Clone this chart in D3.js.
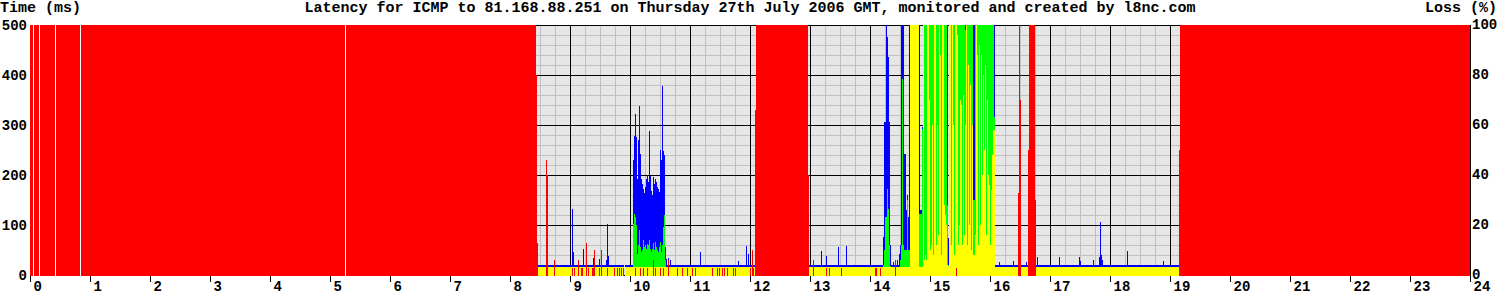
<!DOCTYPE html>
<html>
<head>
<meta charset="utf-8">
<script src="https://cdn.jsdelivr.net/npm/d3@7.9.0/dist/d3.min.js"></script>
<style>
  body { margin: 0; background: #fff; }
  svg text { font-family: "Liberation Mono", "DejaVu Sans Mono", monospace; font-weight: bold; fill: #000; }
  rect, line { shape-rendering: crispEdges; }
</style>
</head>
<body>
<svg width="1500" height="300"></svg>
<script>
const title = 'Latency for ICMP to 81.168.88.251 on Thursday 27th July 2006 GMT, monitored and created by l8nc.com';
const leftTitle = 'Time (ms)';
const rightTitle = 'Loss (%)';

const hourTicks = [0, 1, 2, 3, 4, 5, 6, 7, 8, 9, 10, 11, 12, 13, 14, 15, 16, 17, 18, 19, 20, 21, 22, 23, 24];
const msTicks = [0, 100, 200, 300, 400, 500];
const lossTicks = [0, 20, 40, 60, 80, 100];

// time is in minutes after midnight, one sample per minute
// runs: [fromMinute, toMinute, value]
const maxRuns = [[508, 594, 20], [595, 725, 20], [779, 1149, 20]];
const avgRuns = [[508, 594, 17], [595, 725, 17], [779, 1149, 17]];
const minRuns = [[508, 594, 16], [595, 725, 16], [779, 1149, 16]];

const lossRuns = [
  [0, 3, 100], [4, 9, 100], [10, 25, 100], [26, 50, 100], [51, 315, 100], [316, 506, 100],
  [506, 507, 80], [507, 508, 13],
  [725, 726, 66], [726, 778, 100], [778, 779, 40],
  [988, 989, 33], [989, 990, 100], [990, 991, 70],
  [998, 999, 50], [999, 1005, 100], [1005, 1006, 30],
  [1149, 1150, 50], [1150, 1440, 100]
];
const noDataGaps = [3, 9, 25, 50, 315];

// single samples: [minute, value]
const maxSpikes = [
  [542, 132], [543, 46], [553, 52], [563, 34], [569, 32], [576, 30], [577, 102], [578, 38],
  [636, 32], [638, 34], [640, 30], [670, 46], [708, 28], [716, 58], [718, 42], [722, 34],
  [791, 48], [796, 38], [808, 56], [816, 58], [863, 26], [865, 26], [867, 30],
  [969, 26], [983, 28], [996, 26], [1007, 36], [1029, 36], [1049, 36], [1050, 28],
  [1063, 30], [1069, 36], [1070, 106], [1071, 41], [1072, 30], [1097, 48], [1133, 28]
];
const lossSpikes = [
  [516, 46], [517, 40], [524, 6], [542, 3], [544, 3], [548, 6], [551, 3], [552, 3], [556, 13],
  [558, 3], [562, 3], [563, 3], [564, 10], [569, 3], [571, 10], [577, 3], [584, 3], [587, 3],
  [589, 3], [591, 3], [593, 3], [605, 3], [610, 3], [613, 3], [617, 3], [623, 6], [625, 3],
  [630, 3], [633, 3], [638, 6], [647, 3], [652, 3], [657, 3], [662, 3], [665, 3], [682, 3],
  [687, 3], [689, 3], [692, 3], [694, 3], [697, 3], [703, 3], [705, 3], [720, 3], [722, 10],
  [723, 3], [783, 6], [796, 3], [799, 3], [811, 3], [845, 3], [846, 3], [850, 3], [865, 6], [926, 3]
];

// busy stretch around 10:05
const burstAStart = 603;
const burstAMax = [230, 278, 323, 277, 193, 270, 338, 243, 193, 183, 173, 164, 177, 193, 201, 187, 288,
  199, 168, 160, 197, 183, 193, 187, 177, 172, 167, 250, 230, 378, 248, 240, 57];
const burstAAvg = [102, 122, 116, 100, 43, 60, 90, 57, 47, 50, 70, 57, 60, 53, 63, 60, 70,
  53, 47, 53, 64, 51, 66, 57, 50, 47, 57, 66, 47, 60, 97, 120, 30];

// spike at 14:13
const burstBStart = 853;
const burstBMax = [77, 307, 307, 500, 476, 436, 307, 60];
const burstBAvg = [20, 50, 117, 117, 172, 133, 60, 18];

// 14:29 - 16:05
const burstCStart = 869;
const burstCMax = [
  43, 60, 500, 500, 500, 243, 243, 130, 160, 117,
  500, 500, 500, 500, 500, 500, 500, 500, 500, 500,
  500, 130, 130, 297, 500, 500, 500, 500, 500, 500,
  500, 500, 500, 500, 500, 500, 500, 500, 500, 500,
  500, 500, 500, 500, 500, 500, 500, 500, 500, 74,
  500, 500, 500, 500, 500, 500, 500, 500, 500, 500,
  500, 500, 500, 500, 500, 500, 500, 500, 500, 500,
  500, 500, 500, 500, 500, 500, 500, 500, 500, 500,
  500, 500, 500, 500, 500, 500, 500, 500, 500, 500,
  500, 500, 500, 500, 500, 500];
const burstCAvg = [
  17, 30, 60, 393, 60, 50, 50, 50, 150, 50,
  50, 500, 500, 500, 500, 500, 500, 500, 500, 500,
  123, 123, 123, 293, 500, 500, 500, 500, 500, 500,
  500, 500, 500, 500, 500, 500, 500, 500, 500, 500,
  500, 500, 500, 500, 500, 500, 500, 500, 140, 20,
  500, 500, 500, 500, 500, 500, 500, 500, 500, 500,
  500, 500, 500, 500, 500, 500, 490, 500, 500, 500,
  500, 500, 500, 500, 150, 150, 500, 500, 500, 500,
  500, 500, 500, 500, 500, 500, 500, 500, 500, 500,
  500, 500, 500, 500, 500, 316];
const burstCMin = [
  16, 16, 16, 16, 16, 16, 16, 16, 16, 16,
  16, 500, 500, 500, 500, 500, 500, 500, 500, 500,
  16, 16, 16, 16, 500, 30, 40, 30, 500, 500,
  350, 50, 60, 300, 40, 500, 500, 60, 300, 80,
  500, 440, 40, 500, 500, 140, 120, 100, 20, 18,
  500, 500, 60, 500, 300, 40, 500, 500, 480, 60,
  100, 350, 340, 60, 360, 80, 300, 500, 60, 420,
  100, 380, 50, 300, 40, 40, 80, 500, 440, 60,
  460, 100, 440, 200, 400, 250, 420, 80, 350, 200,
  180, 60, 170, 240, 290, 290];

const svg = d3.select('svg');
const x = d3.scaleLinear().domain([0, 1440]).range([30, 1470]);
const y = d3.scaleLinear().domain([0, 500]).range([275, 25]);
const yLoss = d3.scaleLinear().domain([0, 100]).range([275, 25]);

const samples = (start, values) => values.map((v, i) => [start + i, start + i + 1, v]);
const singles = (list) => list.map(([m, v]) => [m, m + 1, v]);

// plot background and grid
svg.append('rect')
  .attr('x', x(0)).attr('y', 25)
  .attr('width', x(1440) - x(0)).attr('height', 251)
  .attr('fill', '#e6e6e6');

let minorMinutes = d3.range(0, 1441, 15).filter((m) => m % 60 !== 0);
let minorMs = d3.range(0, 501, 20).filter((v) => v % 100 !== 0);

svg.append('g')
  .attr('transform', 'translate(0,276)')
  .call(d3.axisBottom(x).tickValues(minorMinutes).tickSize(-251).tickFormat(''))
  .call((g) => g.select('.domain').remove())
  .selectAll('line').attr('stroke', '#c0c0c0');

svg.append('g')
  .attr('transform', 'translate(30,0)')
  .call(d3.axisLeft(y).tickValues(minorMs).tickSize(-1440).tickFormat(''))
  .call((g) => g.select('.domain').remove())
  .selectAll('line').attr('stroke', '#c0c0c0');

svg.append('g')
  .attr('transform', 'translate(0,276)')
  .call(d3.axisBottom(x).tickValues(hourTicks.map((h) => h * 60)).tickSize(-251).tickFormat(''))
  .call((g) => g.select('.domain').remove())
  .selectAll('line').attr('stroke', '#000');

svg.append('g')
  .attr('transform', 'translate(30,0)')
  .call(d3.axisLeft(y).tickValues(msTicks).tickSize(-1440).tickFormat(''))
  .call((g) => g.select('.domain').remove())
  .selectAll('line').attr('stroke', '#000');

// empty samples
svg.append('g').selectAll('rect')
  .data(noDataGaps)
  .join('rect')
  .attr('x', (m) => x(m)).attr('y', 25)
  .attr('width', (m) => x(m + 1) - x(m)).attr('height', 251)
  .attr('fill', '#fff');

function drawRuns(runs, scale, top, color) {
  svg.append('g').selectAll('rect')
    .data(runs)
    .join('rect')
    .attr('x', (d) => x(d[0]))
    .attr('width', (d) => x(d[1]) - x(d[0]))
    .attr('y', (d) => scale(Math.min(d[2], top)))
    .attr('height', (d) => scale(0) + 1 - scale(Math.min(d[2], top)))
    .attr('fill', color);
}

drawRuns([...maxRuns, ...singles(maxSpikes), ...samples(burstAStart, burstAMax),
  ...samples(burstBStart, burstBMax), ...samples(burstCStart, burstCMax)], y, 500, '#0000ff');
drawRuns([...avgRuns, ...samples(burstAStart, burstAAvg),
  ...samples(burstBStart, burstBAvg), ...samples(burstCStart, burstCAvg)], y, 500, '#00ff00');
drawRuns([...minRuns, ...samples(burstCStart, burstCMin)], y, 500, '#ffff00');
drawRuns([...lossRuns, ...singles(lossSpikes)], yLoss, 100, '#ff0000');

// hour axis
let xAxis = svg.append('g')
  .attr('transform', 'translate(0,276)')
  .call(d3.axisBottom(x).tickValues(hourTicks.map((h) => h * 60)).tickSize(6).tickFormat((m) => String(m / 60)));
xAxis.select('.domain').remove();
xAxis.selectAll('line').attr('stroke', '#000');
xAxis.selectAll('text')
  .attr('x', 3).attr('y', 15).attr('dy', null)
  .attr('text-anchor', 'start')
  .style('font-size', '14px');

// value labels on both sides
svg.append('g').selectAll('text')
  .data(msTicks)
  .join('text')
  .attr('x', 27).attr('y', (d) => y(d)).attr('dy', '0.35em')
  .attr('text-anchor', 'end')
  .style('font-size', '14px')
  .text((d) => d);

svg.append('g').selectAll('text')
  .data(lossTicks)
  .join('text')
  .attr('x', 1472).attr('y', (d) => yLoss(d) - 1).attr('dy', '0.35em')
  .style('font-size', '14px')
  .text((d) => d);

svg.append('text').attr('x', 0).attr('y', 12).style('font-size', '15px').text(leftTitle);
svg.append('text').attr('x', 1497).attr('y', 12).attr('text-anchor', 'end').style('font-size', '15px').text(rightTitle);
svg.append('text').attr('x', 750).attr('y', 12).attr('text-anchor', 'middle').style('font-size', '15px').text(title);
</script>
</body>
</html>
